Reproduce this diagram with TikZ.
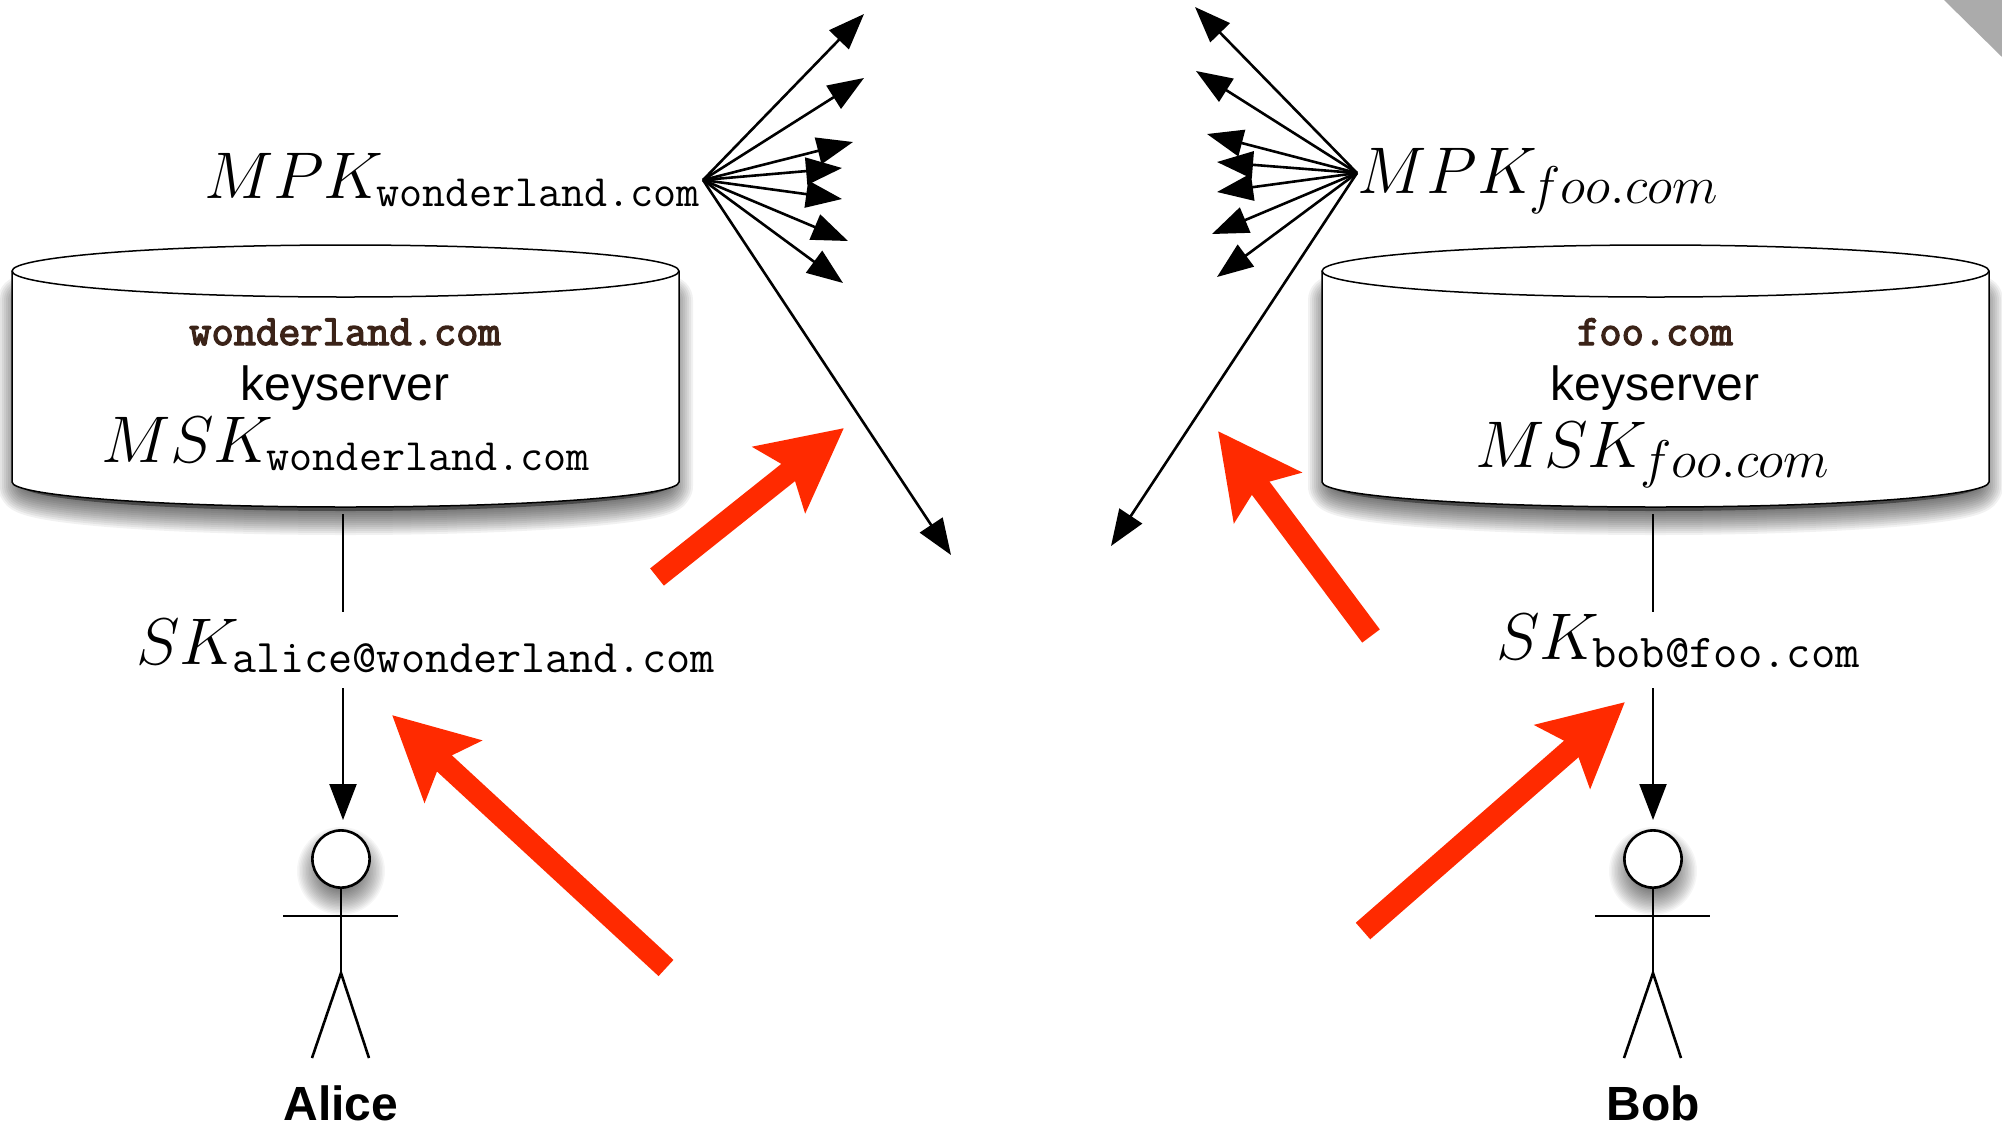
\documentclass[tikz,border=0pt]{standalone}
\usepackage{fix-cm}
\usepackage{fontspec}
\setsansfont{Liberation Sans}
\newfontfamily\domfont[FakeBold=3.2]{Latin Modern Mono}
\usetikzlibrary{arrows.meta}
\definecolor{redarrow}{HTML}{FF2A00}
\definecolor{domainbrown}{HTML}{3B2318}
\definecolor{cornergray}{HTML}{ABABAB}
% big math name + typewriter subscript
\newcommand\bigname[1]{{\fontsize{33}{40}\selectfont$#1$}}
\newcommand\ttsub[2][22.4]{\kern-3.5pt\raisebox{-4pt}{\fontsize{#1}{26}\selectfont\ttfamily #2}}
\newcommand\itsub[1]{\kern-3.5pt\raisebox{-5pt}{\fontsize{26.5}{30}\selectfont$#1$}}
\tikzset{
  fan/.style={line width=1.3pt,-{Triangle[length=18pt,width=13.5pt]}},
  plainline/.style={line width=0.9pt},
  downarrow/.style={line width=1.1pt,-{Triangle[length=18pt,width=13.5pt]}},
  redthick/.style={draw=redarrow,line width=11pt,-{Stealth[length=41pt,width=41pt,inset=7.5pt,color=redarrow]}},
  figure line/.style={line width=1.3pt},
  lbl/.style={inner sep=0pt,outer sep=0pt,anchor=base west},
  ctr/.style={inner sep=0pt,outer sep=0pt,anchor=base},
  srv/.style={ctr,font=\sffamily\fontsize{24}{28}\selectfont},
  dom/.style={ctr,text=domainbrown,font=\domfont\fontsize{21.6}{26}\selectfont},
  who/.style={ctr,font=\sffamily\bfseries\fontsize{24}{28}\selectfont},
}
\newcommand\drum[1]{%
  \begin{scope}[shift={(#1,0)}]
    \fill[black,opacity=.4] (22,300) -- (669,300) -- (669,486)
        arc[start angle=0,end angle=-180,x radius=161.75pt,y radius=12.5pt] -- cycle;
    \foreach \w in {2,4,...,24}
      \draw[black,opacity=.055,line width=\w pt,line join=round]
        (22,300) -- (669,300) -- (669,486)
        arc[start angle=0,end angle=-180,x radius=161.75pt,y radius=12.5pt] -- cycle;
    \draw[fill=white,line width=.75pt]
        (12,271) arc[start angle=180,end angle=0,x radius=166.75pt,y radius=13pt]
        -- (679,482) arc[start angle=0,end angle=-180,x radius=166.75pt,y radius=12.5pt] -- cycle;
    \draw[line width=.75pt]
        (12,271) arc[start angle=180,end angle=360,x radius=166.75pt,y radius=13pt];
  \end{scope}}
\newcommand\stick[2]{%
  \begin{scope}[shift={(#1,0)}]
    \foreach \r in {44,42.5,...,14}
      \fill[black,opacity=.034] (341,871) circle[radius=\r*0.5pt];
    \draw[figure line,fill=white] (341,859) circle[radius=14.3pt];
    \draw[figure line] (341,888) -- (341,973);
    \draw[figure line] (283,916) -- (398,916);
    \draw[figure line] (312,1058) -- (341,973) -- (369,1058);
    \node[who] (#2) at (341,1120) {#2};
  \end{scope}}
\begin{document}
\begin{tikzpicture}[x=0.5pt,y=-0.5pt]
\useasboundingbox (0,0) rectangle (2002,1126);
\fill[white] (0,0) rectangle (2002,1126);
\fill[cornergray] (1944,0) -- (2002,0) -- (2002,57) -- cycle;

\drum{0}
\drum{1310}

% stick figures
\stick{0}{Alice}
\stick{1312}{Bob}

% labels
\node[lbl] (mpkl) at (204,198) {\bigname{MPK}\ttsub{wonderland.com}};
\node[lbl] (mpkr) at (1357,193) {\bigname{MPK}\itsub{foo.com}};
\node[lbl] (mskl) at (101,462) {\bigname{MSK}\ttsub{wonderland.com}};
\node[lbl] (mskr) at (1475,467) {\bigname{MSK}\itsub{foo.com}};
\node[lbl] (ska) at (136,664) {\bigname{SK}\ttsub[23.4]{alice@wonderland.com}};
\node[lbl] (skb) at (1496,659) {\bigname{SK}\ttsub[23.6]{bob@foo.com}};
\node[dom] (doml) at (345,345) {wonderland.com};
\node[dom] (domr) at (1655,345) {foo.com};
\node[srv] (srvl) at (345,400) {keyserver};
\node[srv] (srvr) at (1655,400) {keyserver};

% fan left
\coordinate (lo) at (703,180);
\coordinate (l1) at (864,14);
\coordinate (l2) at (864,78);
\coordinate (l3) at (853,142);
\coordinate (l4) at (842,168);
\coordinate (l5) at (842,199);
\coordinate (l6) at (848,241);
\coordinate (l7) at (843,283);
\coordinate (l8) at (951,555);
\foreach \t in {l1,l2,l3,l4,l5,l6,l7,l8} \draw[fan] (lo) -- (\t);
% fan right
\coordinate (ro) at (1357,173);
\coordinate (r1) at (1195,7);
\coordinate (r2) at (1196,71);
\coordinate (r3) at (1207,134);
\coordinate (r4) at (1217,162);
\coordinate (r5) at (1217,192);
\coordinate (r6) at (1212,234);
\coordinate (r7) at (1217,277);
\coordinate (r8) at (1111,546);
\foreach \t in {r1,r2,r3,r4,r5,r6,r7,r8} \draw[fan] (ro) -- (\t);

% vertical links
\coordinate (al1) at (343,514); \coordinate (al2) at (343,612);
\coordinate (al3) at (343,688); \coordinate (al4) at (343,820);
\coordinate (bl1) at (1653,514); \coordinate (bl2) at (1653,612);
\coordinate (bl3) at (1653,688); \coordinate (bl4) at (1653,820);
\draw[plainline] (al1) -- (al2);
\draw[downarrow] (al3) -- (al4);
\draw[plainline] (bl1) -- (bl2);
\draw[downarrow] (bl3) -- (bl4);

% red arrows
\coordinate (ra1) at (657,577); \coordinate (ra2) at (844,428);
\coordinate (rb1) at (1371,636); \coordinate (rb2) at (1218,431);
\coordinate (rc1) at (666,968); \coordinate (rc2) at (392,715);
\coordinate (rd1) at (1363,931); \coordinate (rd2) at (1625,702);
\draw[redthick] (ra1) -- (ra2);
\draw[redthick] (rb1) -- (rb2);
\draw[redthick] (rc1) -- (rc2);
\draw[redthick] (rd1) -- (rd2);
\end{tikzpicture}
\end{document}
